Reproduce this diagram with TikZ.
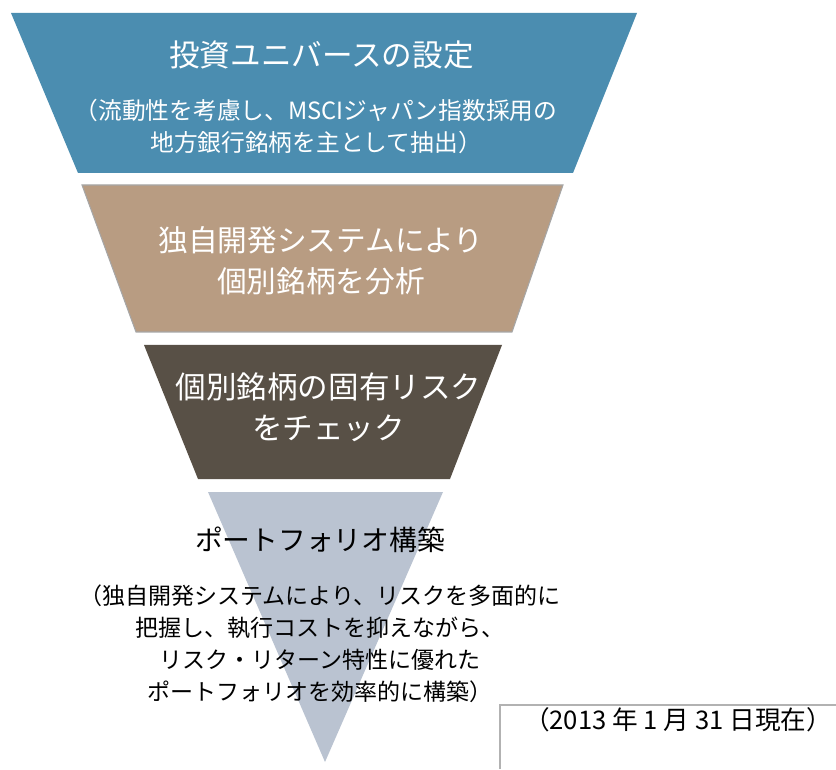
\documentclass[tikz,border=0pt]{standalone}
\usepackage{fontspec}
\usepackage{tikz}
\usetikzlibrary{positioning}
\newfontfamily\jpfont{Noto Sans CJK JP}
\definecolor{bandblue}{RGB}{75,141,176}
\definecolor{bandtan}{RGB}{184,156,130}
\definecolor{banddark}{RGB}{88,80,70}
\definecolor{bandgrey}{RGB}{186,195,209}
\tikzset{
  bigtext/.style={align=center, text=white, font=\jpfont\fontsize{17.4}{23.5}\selectfont},
  smalltext/.style={align=center, font=\jpfont\fontsize{13.5}{18.6}\selectfont},
}

\begin{document}
\begin{tikzpicture}
\useasboundingbox (0,0) rectangle (16.72,15.38);
\path [fill=bandblue] (0.22,15.12) -- (12.74,15.12) -- (11.46,11.92) -- (1.56,11.92) -- cycle;
\path [fill=bandtan, draw=gray!70, line width=0.6pt] (1.64,11.68) -- (11.26,11.68) -- (10.24,8.74) -- (2.72,8.74) -- cycle;
\path [fill=banddark] (2.88,8.48) -- (10.04,8.48) -- (9.0,5.8) -- (3.96,5.8) -- cycle;
\path [fill=bandgrey] (4.16,5.54) -- (8.86,5.54) -- (6.5,0.14) -- cycle;

\draw [gray!60, line width=0.6pt] (10.0,0) -- (10.0,1.28) -- (16.72,1.28);

\node [bigtext] (universe) at (6.43,14.28) {投資ユニバースの設定};
\node [smalltext, text=white] (universenote) at (6.32,12.85) {（流動性を考慮し、MSCIジャパン指数採用の\\地方銀行銘柄を主として抽出）};
\node [bigtext, font=\jpfont\fontsize{16.9}{23.5}\selectfont] (analysis) at (6.42,10.17) {独自開発システムにより\\個別銘柄を分析};
\node [bigtext] (riskcheck) at (6.57,7.23) {個別銘柄の固有リスク\\をチェック};
\node [font=\jpfont\fontsize{15.8}{20}\selectfont] (portfolio) at (6.4,4.58) {ポートフォリオ構築};
\node [smalltext, font=\jpfont\fontsize{13.1}{18.3}\selectfont] (portfolionote) at (6.4,2.5) {（独自開発システムにより、リスクを多面的に\\把握し、執行コストを抑えながら、\\リスク・リターン特性に優れた\\ポートフォリオを効率的に構築）};
\node [smalltext, font=\jpfont\fontsize{14.6}{18.6}\selectfont] (asof) at (13.56,0.98) {（2013 年 1 月 31 日現在）};
\end{tikzpicture}
\end{document}
